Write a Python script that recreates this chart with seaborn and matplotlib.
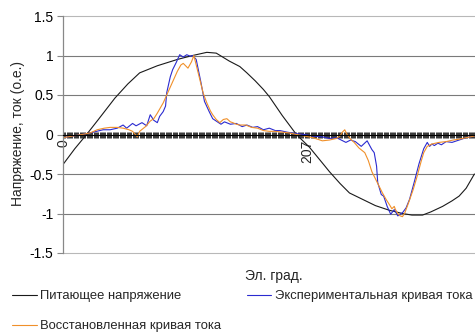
import matplotlib
matplotlib.use('Agg')
import matplotlib.pyplot as plt
from matplotlib.ticker import FixedLocator, MultipleLocator
import seaborn as sns

# Electrical degrees (category index) and per-unit values
volt_x = [0, 10, 20, 30, 44, 55, 65, 80, 97, 110, 122, 130, 141, 150, 156, 163,
          170, 175, 186, 198, 209, 220, 226, 235, 243, 254, 265, 277, 288, 296,
          305, 312, 322, 330, 336, 342, 349]
volt_y = [-0.38, -0.18, 0.0, 0.19, 0.46, 0.64, 0.78, 0.87, 0.95, 1.0, 1.04, 1.03,
          0.93, 0.86, 0.78, 0.68, 0.57, 0.48, 0.24, 0.0, -0.16, -0.36, -0.47,
          -0.62, -0.74, -0.82, -0.9, -0.96, -1.0, -1.02, -1.02, -0.98, -0.91,
          -0.84, -0.78, -0.68, -0.5]

exp_x = [0, 8, 16, 23, 34, 40, 46, 51, 54, 59, 62, 67, 71, 74, 77, 80, 82, 85, 87,
         88, 91, 93, 96, 99, 102, 105, 108, 110, 113, 117, 120, 124, 127, 130, 134,
         137, 142, 147, 152, 156, 161, 165, 170, 175, 180, 184, 190, 198, 205, 212,
         220, 226, 232, 240, 244, 248, 253, 258, 262, 264, 266, 267, 270, 272, 275,
         278, 281, 284, 288, 291, 294, 298, 302, 306, 309, 311, 313, 315, 318, 321,
         325, 330, 336, 342, 349]
exp_y = [-0.04, -0.02, 0.0, 0.02, 0.06, 0.06, 0.08, 0.12, 0.08, 0.14, 0.11, 0.15,
         0.11, 0.25, 0.18, 0.15, 0.23, 0.29, 0.36, 0.53, 0.73, 0.82, 0.91, 1.01,
         0.98, 1.01, 0.99, 1.0, 0.95, 0.66, 0.42, 0.29, 0.2, 0.17, 0.13, 0.16,
         0.13, 0.14, 0.1, 0.12, 0.09, 0.1, 0.06, 0.08, 0.05, 0.05, 0.03, 0.01,
         0.0, -0.02, -0.03, -0.05, -0.04, -0.1, -0.07, -0.09, -0.15, -0.08, -0.19,
         -0.23, -0.4, -0.61, -0.76, -0.78, -0.91, -1.01, -0.95, -1.03, -0.99,
         -0.93, -0.82, -0.6, -0.37, -0.18, -0.1, -0.15, -0.12, -0.14, -0.11,
         -0.13, -0.09, -0.1, -0.07, -0.04, -0.02]

rec_x = [0, 8, 16, 23, 29, 35, 40, 46, 51, 56, 59, 62, 63, 65, 70, 74, 77, 80, 85,
         88, 91, 94, 97, 100, 102, 106, 109, 111, 113, 116, 119, 122, 125, 127,
         130, 133, 136, 139, 142, 144, 147, 150, 155, 160, 165, 170, 175, 180,
         186, 192, 198, 205, 212, 220, 226, 232, 235, 237, 239, 241, 244, 247,
         251, 256, 259, 262, 265, 268, 271, 274, 277, 279, 281, 282, 284, 286,
         288, 290, 293, 297, 300, 302, 304, 306, 309, 313, 319, 325, 331, 336,
         342, 349]
rec_y = [-0.04, -0.02, 0.0, 0.02, 0.06, 0.08, 0.09, 0.09, 0.08, 0.06, 0.04,
         -0.01, -0.03, 0.04, 0.1, 0.17, 0.2, 0.27, 0.4, 0.5, 0.6, 0.7, 0.8, 0.88,
         0.9, 0.84, 0.92, 1.0, 0.88, 0.7, 0.52, 0.4, 0.3, 0.25, 0.19, 0.15, 0.19,
         0.2, 0.16, 0.15, 0.13, 0.12, 0.12, 0.09, 0.08, 0.05, 0.04, 0.04, 0.03,
         0.02, 0.0, -0.02, -0.04, -0.08, -0.07, -0.05, -0.02, 0.03, 0.06, 0.0,
         -0.06, -0.1, -0.17, -0.23, -0.33, -0.47, -0.56, -0.65, -0.74, -0.82,
         -0.89, -0.94, -0.91, -0.95, -1.0, -1.03, -1.04, -0.99, -0.87, -0.7,
         -0.55, -0.44, -0.33, -0.23, -0.15, -0.12, -0.1, -0.09, -0.07, -0.06,
         -0.04, -0.02]

labels = ['Питающее напряжение', 'Экспериментальная кривая тока',
          'Восстановленная кривая тока']
y_ticks = [-1.5, -1, -0.5, 0, 0.5, 1, 1.5]
y_tick_labels = ['-1.5', '-1', '-0.5', '0', '0.5', '1', '1.5']
x_tick_pos = [0, 207]
x_tick_labels = ['0', '207']
n_degrees = 350

sns.set_style('white')
plt.rcParams['font.family'] = ['Liberation Sans', 'DejaVu Sans']

fig = plt.figure(figsize=(4.75, 3.36), dpi=100)
ax = fig.add_axes([63 / 475, 1 - 253 / 336, 1 - 63 / 475, (253 - 16) / 336])

sns.lineplot(x=volt_x, y=volt_y, ax=ax, color='#1a1a1a', linewidth=0.8,
             estimator=None, label=labels[0])
sns.lineplot(x=exp_x, y=exp_y, ax=ax, color='#2b2bd0', linewidth=0.8,
             estimator=None, label=labels[1])
sns.lineplot(x=rec_x, y=rec_y, ax=ax, color='#f0902a', linewidth=0.8,
             estimator=None, label=labels[2])

ax.set_xlim(0, n_degrees - 0.5)
ax.set_ylim(-1.5, 1.5)

# y axis / gridlines
ax.set_yticks(y_ticks)
ax.set_yticklabels(y_tick_labels, fontsize=10)
ax.yaxis.grid(True, color='#7a7a7a', linewidth=0.8)
grid = ax.get_ygridlines()
for gl in (grid[0], grid[-1]):
    gl.set_color('#b8b8b8')
    gl.set_clip_on(False)
ax.tick_params(axis='y', left=True, direction='out', length=4, width=0.8,
               color='#888888', pad=3, labelcolor='black')

# category x axis crossing at zero, one tick per degree
ax.spines['bottom'].set_position(('data', 0))
ax.spines['bottom'].set_color('black')
ax.spines['bottom'].set_linewidth(0.8)
ax.spines['left'].set_color('#888888')
ax.spines['left'].set_linewidth(0.9)
ax.spines['top'].set_visible(False)
ax.spines['right'].set_visible(False)
ax.xaxis.set_major_locator(FixedLocator(x_tick_pos))
ax.set_xticklabels(x_tick_labels, rotation=90, fontsize=10)
ax.xaxis.set_minor_locator(MultipleLocator(1))
ax.tick_params(axis='x', which='both', bottom=True, direction='inout',
               length=5, width=0.55, color='black', pad=1)
ax.set_xlabel('')
ax.set_ylabel('')

fig.text(18 / 475, 1 - 134 / 336, 'Напряжение, ток (о.е.)', rotation=90,
         ha='center', va='center', fontsize=10)
fig.text(274 / 475, 1 - 276 / 336, 'Эл. град.', ha='center', va='center',
         fontsize=10)

handles, _ = ax.get_legend_handles_labels()
ax.get_legend().remove()
fig.legend([handles[0], handles[2], handles[1]],
           [labels[0], labels[2], labels[1]],
           loc='upper left', bbox_to_anchor=(12 / 475, 1 - 290 / 336),
           ncol=2, frameon=False, fontsize=9.4, handlelength=1.9,
           handletextpad=0.25, columnspacing=1.95, labelspacing=1.38,
           borderpad=0, borderaxespad=0)

fig.savefig('out.png', dpi=100)
